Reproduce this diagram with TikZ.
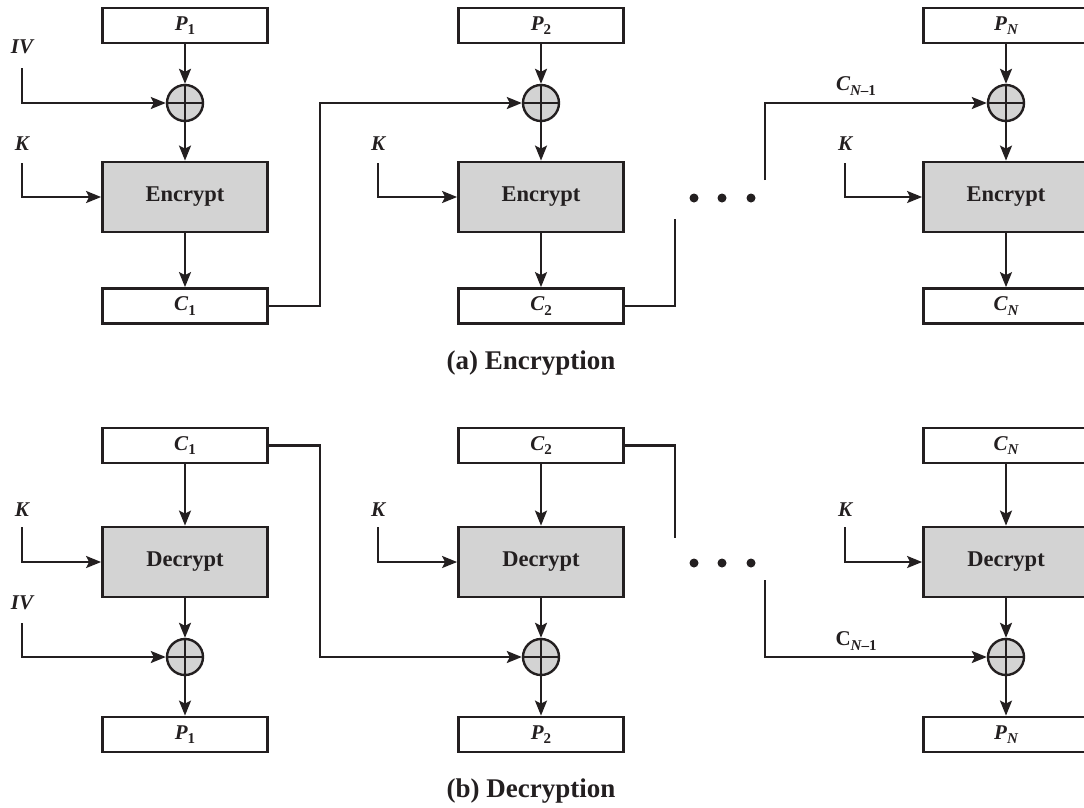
\documentclass[tikz,border=0pt]{standalone}
\usepackage{fontspec}
\setmainfont{Liberation Serif}
\usetikzlibrary{arrows.meta}
\definecolor{boxgray}{HTML}{D3D3D3}
\definecolor{ink}{HTML}{231F20}
\newcommand\Sb[1]{\raisebox{-0.45ex}{\fontsize{15}{15}\selectfont #1}}
\begin{document}
\begin{tikzpicture}[x=1pt,y=-1pt,
  conn/.style={draw=ink, line width=2.1pt, -{Stealth[length=15pt,width=12pt,inset=3pt]}},
  wire/.style={draw=ink, line width=2.1pt},
  smallbox/.style={draw=ink, line width=2.8pt, minimum width=165pt, minimum height=35pt, inner sep=0pt, text=ink, font=\fontsize{21}{21}\selectfont\bfseries},
  bigbox/.style={draw=ink, fill=boxgray, line width=2.8pt, minimum width=165pt, minimum height=70pt, text=ink, font=\fontsize{22.5}{22.5}\selectfont\bfseries},
  xor/.style={circle, draw=ink, fill=boxgray, line width=2.4pt, minimum size=36pt, inner sep=0pt,
    path picture={\draw[line width=2.1pt,ink] (path picture bounding box.north) -- (path picture bounding box.south) (path picture bounding box.west) -- (path picture bounding box.east);}},
  lbl/.style={font=\fontsize{21}{21}\selectfont\bfseries\itshape, inner sep=0pt, text=ink},
  captxt/.style={font=\fontsize{27}{27}\selectfont\bfseries, inner sep=0pt, text=ink},
  dotn/.style={circle, fill=ink, inner sep=0pt, minimum size=9pt},
]
\useasboundingbox (0,0) rectangle (1084,807);
\clip (0,0) rectangle (1084,807);

% ---------- Encryption ----------
\foreach \c/\cx in {1/185,2/541,3/1006}{
  \node[xor] (x\c) at (\cx,103) {};
  \node[bigbox] (e\c) at (\cx,197) {Encrypt};
}
\node[smallbox] (p1) at (185,25.5) {{\itshape P}\Sb{1}};
\node[smallbox] (p2) at (541,25.5) {{\itshape P}\Sb{2}};
\node[smallbox] (p3) at (1006,25.5) {{\itshape P}\Sb{\itshape N}};
\node[smallbox] (c1) at (185,306) {{\itshape C}\Sb{1}};
\node[smallbox] (c2) at (541,306) {{\itshape C}\Sb{2}};
\node[smallbox] (c3) at (1006,306) {{\itshape C}\Sb{\itshape N}};

\foreach \c in {1,2,3}{
  \draw[conn] (p\c.south) -- (x\c.north);
  \draw[conn] (x\c.south) -- (e\c.north);
  \draw[conn] (e\c.south) -- (c\c.north);
}
\node[lbl] (ivA) at (22,47) {IV};
\coordinate (ivAs) at (22,68);
\draw[conn] (ivAs) |- (x1.west);
\foreach \c/\kx in {1/22,2/378,3/845}{
  \node[lbl] (kA\c) at (\kx,144) {K};
  \coordinate (kAs\c) at (\kx,163);
  \draw[conn] (kAs\c) |- (e\c.west);
}
\draw[conn] (c1.east) -- ++(51,0) |- (x2.west);
\coordinate (c2end) at (675,219);
\draw[wire] (c2.east) -| (c2end);
\coordinate (cnA) at (765,180);
\draw[conn] (cnA) |- (x3.west);
\node[lbl] (cnAl) at (856,86) {C\Sb{N{\upshape\bfseries –1}}};
\node[dotn] (dA1) at (694,198) {};
\node[dotn] (dA2) at (722,198) {};
\node[dotn] (dA3) at (751,198) {};
\node[captxt] (capA) at (531,363) {(a) Encryption};

% ---------- Decryption ----------
\foreach \c/\cx in {1/185,2/541,3/1006}{
  \node[xor] (y\c) at (\cx,657) {};
  \node[bigbox] (d\c) at (\cx,562) {Decrypt};
}
\node[smallbox] (dc1) at (185,445.5) {{\itshape C}\Sb{1}};
\node[smallbox] (dc2) at (541,445.5) {{\itshape C}\Sb{2}};
\node[smallbox] (dc3) at (1006,445.5) {{\itshape C}\Sb{\itshape N}};
\node[smallbox] (dp1) at (185,734.5) {{\itshape P}\Sb{1}};
\node[smallbox] (dp2) at (541,734.5) {{\itshape P}\Sb{2}};
\node[smallbox] (dp3) at (1006,734.5) {{\itshape P}\Sb{\itshape N}};

\foreach \c in {1,2,3}{
  \draw[conn] (dc\c.south) -- (d\c.north);
  \draw[conn] (d\c.south) -- (y\c.north);
  \draw[conn] (y\c.south) -- (dp\c.north);
}
\foreach \c/\kx in {1/22,2/378,3/845}{
  \node[lbl] (kB\c) at (\kx,510) {K};
  \coordinate (kBs\c) at (\kx,527);
  \draw[conn] (kBs\c) |- (d\c.west);
}
\node[lbl] (ivB) at (22,603) {IV};
\coordinate (ivBs) at (22,623);
\draw[conn] (ivBs) |- (y1.west);
\draw[conn] (dc1.east) -- ++(51,0) |- (y2.west);
\coordinate (dc2end) at (675,538);
\draw[wire] (dc2.east) -| (dc2end);
\coordinate (cnB) at (765,580);
\draw[conn] (cnB) |- (y3.west);
\node[lbl] (cnBl) at (856,641) {{\upshape C}\Sb{N{\upshape –1}}};
\node[dotn] (dB1) at (694,563) {};
\node[dotn] (dB2) at (722,563) {};
\node[dotn] (dB3) at (751,563) {};
\node[captxt] (capB) at (531,791) {(b) Decryption};
\end{tikzpicture}
\end{document}
